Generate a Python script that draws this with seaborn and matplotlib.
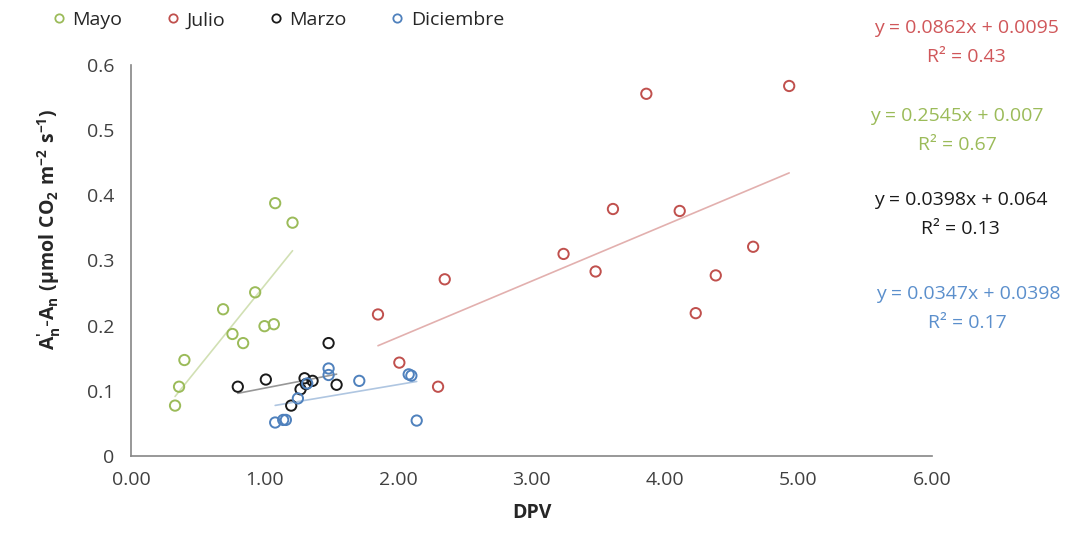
import numpy as np
import pandas as pd
import matplotlib
matplotlib.use("Agg")
import matplotlib.pyplot as plt
from matplotlib.lines import Line2D
import seaborn as sns

# Vapour pressure deficit (DPV) and An'-An difference per sampling month
mayo_x = [1.08, 1.21, 0.93, 0.69, 0.76, 1.00, 1.07, 0.84, 0.40, 0.36, 0.33]
mayo_y = [0.388, 0.358, 0.251, 0.225, 0.187, 0.199, 0.202, 0.173, 0.147, 0.106, 0.077]

julio_x = [3.86, 4.93, 3.61, 4.11, 3.24, 3.48, 4.66, 4.38, 4.23, 2.35, 1.85, 2.01, 2.30]
julio_y = [0.556, 0.568, 0.379, 0.376, 0.310, 0.283, 0.321, 0.277, 0.219, 0.271, 0.217, 0.143, 0.106]

marzo_x = [0.80, 1.01, 1.30, 1.36, 1.31, 1.27, 1.20, 1.48, 1.54]
marzo_y = [0.106, 0.117, 0.119, 0.115, 0.110, 0.102, 0.077, 0.173, 0.109]

diciembre_x = [1.08, 1.14, 1.16, 1.25, 1.32, 1.48, 1.48, 1.71, 2.08, 2.10, 2.14]
diciembre_y = [0.051, 0.055, 0.055, 0.088, 0.111, 0.134, 0.124, 0.115, 0.125, 0.123, 0.054]

months = ["Mayo", "Julio", "Marzo", "Diciembre"]
colors = {"Mayo": "#9BBB59", "Julio": "#C0504D", "Marzo": "#1A1A1A", "Diciembre": "#4F81BD"}
text_colors = {"Mayo": "#9BBB59", "Julio": "#D0575A", "Marzo": "#1A1A1A", "Diciembre": "#5B8FCC"}

# Linear trend coefficients (slope, intercept) and R²
slopes = {"Julio": 0.0862, "Mayo": 0.2545, "Marzo": 0.0398, "Diciembre": 0.0347}
intercepts = {"Julio": 0.0095, "Mayo": 0.007, "Marzo": 0.064, "Diciembre": 0.0398}
r2 = {"Julio": 0.43, "Mayo": 0.67, "Marzo": 0.13, "Diciembre": 0.17}
eq_labels = {"Julio": "y = 0.0862x + 0.0095", "Mayo": "y = 0.2545x + 0.007",
             "Marzo": "y = 0.0398x + 0.064", "Diciembre": "y = 0.0347x + 0.0398"}

xs = {"Mayo": mayo_x, "Julio": julio_x, "Marzo": marzo_x, "Diciembre": diciembre_x}
ys = {"Mayo": mayo_y, "Julio": julio_y, "Marzo": marzo_y, "Diciembre": diciembre_y}

df = pd.concat([pd.DataFrame({"DPV": xs[m], "dA": ys[m], "Mes": m}) for m in months],
               ignore_index=True)

sns.set_theme(style="white")
plt.rcParams["font.family"] = ["Open Sans", "DejaVu Sans"]

FS = 14

fig = plt.figure(figsize=(10.79, 5.34), dpi=100)
ax = fig.add_axes([0.1214, 0.1466, 0.7424, 0.7314])

# Trend lines over each month's DPV range
for m in months:
    x0, x1 = min(xs[m]), max(xs[m])
    line_x = np.array([x0, x1])
    line_y = slopes[m] * line_x + intercepts[m]
    sns.lineplot(x=line_x, y=line_y, ax=ax, color=colors[m], alpha=0.45,
                 linewidth=1.2, legend=False, zorder=2)

sns.scatterplot(data=df, x="DPV", y="dA", hue="Mes", hue_order=months,
                palette=colors, ax=ax, s=55, facecolors="none",
                linewidth=1.4, legend=False, zorder=3)
# open markers: edge colours from the hue palette
coll = ax.collections[-1]
coll.set_edgecolors([colors[m] for m in df["Mes"]])
coll.set_facecolors("none")

ax.set_xlim(0, 6)
ax.set_ylim(0, 0.6)
ax.set_xticks(np.arange(0, 7, 1))
ax.set_xticklabels([f"{v:.2f}" for v in np.arange(0, 7, 1)])
ax.set_yticks(np.arange(0, 0.61, 0.1))
ax.set_yticklabels(["0"] + [f"{v:.1f}" for v in np.arange(0.1, 0.61, 0.1)])
ax.tick_params(axis="both", labelsize=FS, length=6, width=1,
               direction="out", color="#868686")
ax.tick_params(axis="x", pad=5)
ax.tick_params(axis="y", pad=6)
for lab in ax.get_xticklabels() + ax.get_yticklabels():
    lab.set_color("#404040")
for side in ["top", "right"]:
    ax.spines[side].set_visible(False)
for side in ["left", "bottom"]:
    ax.spines[side].set_color("#868686")
    ax.spines[side].set_linewidth(1.2)

ax.set_xlabel("DPV", fontsize=FS, fontweight="bold", color="#262626", labelpad=10)
ax.set_ylabel(r"$\mathregular{A_n^{\prime}\text{-}A_n\ (µmol\ CO_2\ m^{-2}\ s^{-1})}$",
              fontsize=FS, fontweight="bold", color="#262626")
ax.yaxis.set_label_coords(-0.085, 0.58)

# Regression equations on the right
eq_pos = {"Julio": (0.896, 0.948), "Mayo": (0.887, 0.782), "Marzo": (0.890, 0.626),
          "Diciembre": (0.897, 0.450)}
for m in ["Julio", "Mayo", "Marzo", "Diciembre"]:
    fx, fy = eq_pos[m]
    fig.text(fx, fy, eq_labels[m], color=text_colors[m], fontsize=FS,
             ha="center", va="center")
    fig.text(fx, fy - 0.054, f"R² = {r2[m]:.2f}", color=text_colors[m], fontsize=FS,
             ha="center", va="center")

handles = [Line2D([], [], linestyle="none", marker="o", markersize=6,
                  markerfacecolor="none", markeredgecolor=colors[m],
                  markeredgewidth=1.3, label=m) for m in months]
fig.legend(handles=handles, loc="center left", bbox_to_anchor=(0.029, 0.962),
           ncol=4, frameon=False, fontsize=FS, handletextpad=0.2,
           columnspacing=2.1, handlelength=1.0, labelcolor="#262626")

fig.savefig("out.png", dpi=100)
